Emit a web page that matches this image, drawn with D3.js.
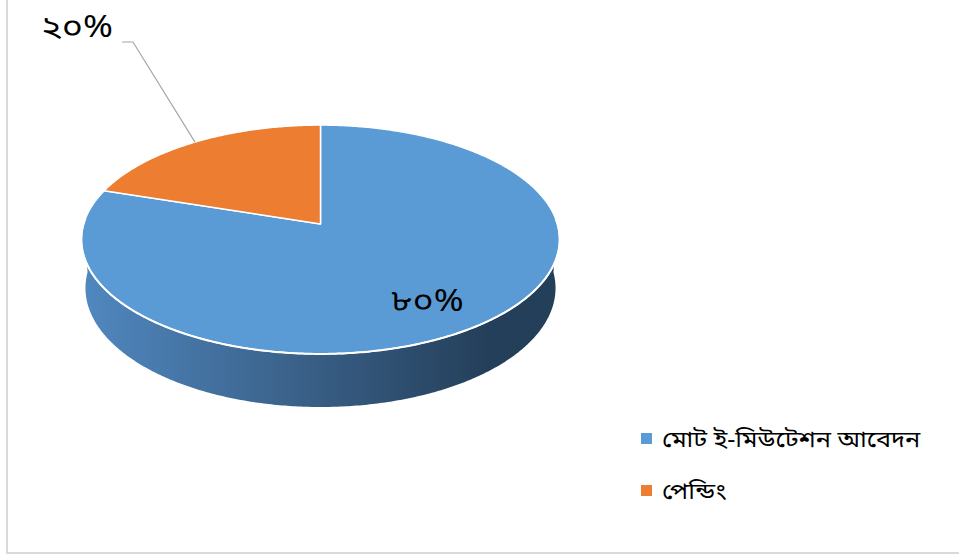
<!DOCTYPE html>
<html lang="bn">
<head>
  <meta charset="UTF-8">
  <title>ই-মিউটেশন আবেদন</title>
  <script src="https://d3js.org/d3.v7.min.js"></script>
  <style>
    body { margin: 0; background: #fff; }
    svg { display: block; }
    text { font-family: "Noto Sans Bengali", Vrinda, "Noto Sans", sans-serif; fill: #000; }
  </style>
</head>
<body>
<svg width="959" height="557"></svg>
<script>
  // data
  const categories = ["মোট ই-মিউটেশন আবেদন", "পেন্ডিং"];
  const values = [80, 20];
  const valueLabels = ["৮০%", "২০%"];
  const colors = ["#5B9BD5", "#ED7D31"];

  const svg = d3.select("svg");

  // chart frame (only left and bottom edges are inside the picture)
  svg.append("rect")
    .attr("x", 7).attr("y", -10).attr("width", 970).attr("height", 563)
    .attr("fill", "none").attr("stroke", "#D9D9D9").attr("stroke-width", 2);

  // simple perspective camera for a tilted disk
  const cx = 320.5, cy = 224;
  const tilt = 28.3 * Math.PI / 180;
  const dist = 6.5, focal = 1540, thick = 0.235;
  function project(theta, r, y) {
    const u = r * Math.sin(theta), v = r * Math.cos(theta);
    const X = u;
    const Y = v * Math.sin(tilt) + y * Math.cos(tilt);
    const Z = dist + v * Math.cos(tilt) - y * Math.sin(tilt);
    return [cx + focal * X / Z, cy - focal * Y / Z];
  }

  const pie = d3.pie().sort(null).value(d => d)(values);
  const line = d3.line();

  function arcPoints(a0, a1, y) {
    const n = Math.max(2, Math.ceil(Math.abs(a1 - a0) / 0.01));
    return d3.range(n + 1).map(i => project(a0 + (a1 - a0) * i / n, 1, y));
  }

  // side wall gradient
  const defs = svg.append("defs");
  const grad = defs.append("linearGradient")
    .attr("id", "side").attr("gradientUnits", "userSpaceOnUse")
    .attr("x1", 82).attr("x2", 559).attr("y1", 0).attr("y2", 0);
  grad.append("stop").attr("offset", 0).attr("stop-color", "#5088C0");
  grad.append("stop").attr("offset", 0.45).attr("stop-color", "#3A6189");
  grad.append("stop").attr("offset", 0.85).attr("stop-color", "#243F5A");
  grad.append("stop").attr("offset", 1).attr("stop-color", "#243F5A");

  // front wall (only the blue slice is visible from the front)
  const w0 = Math.PI / 2, w1 = Math.PI * 1.5;
  const wall = arcPoints(w0, w1, 0).concat(arcPoints(w1, w0, -thick));
  svg.append("path")
    .attr("d", line(wall) + "Z")
    .attr("fill", "url(#side)");

  // top face slices
  svg.append("g").selectAll("path")
    .data(pie)
    .join("path")
    .attr("d", d => line([project(0, 0, 0)].concat(arcPoints(d.startAngle, d.endAngle, 0))) + "Z")
    .attr("fill", (d, i) => colors[i])
    .attr("stroke", "#fff")
    .attr("stroke-width", 1.5)
    .attr("stroke-linejoin", "round");

  // white rim along the front edge
  svg.append("path")
    .attr("d", line(arcPoints(w0 - 0.05, w1 + 0.05, 0)))
    .attr("fill", "none").attr("stroke", "#fff").attr("stroke-width", 2);

  // labels
  const mid0 = (pie[0].startAngle + pie[0].endAngle) / 2;
  const p0 = project(mid0, 0.72, 0);
  svg.append("text")
    .attr("transform", `translate(${p0[0] - 2},${p0[1] + 16}) scale(1.2,1)`)
    .attr("text-anchor", "middle")
    .attr("font-size", 30)
    .text(valueLabels[0]);

  const mid1 = (pie[1].startAngle + pie[1].endAngle) / 2;
  const p1 = project(mid1, 1, 0);
  const elbow = [p1[0] - 62, 42];
  svg.append("path")
    .attr("d", line([p1, elbow, [elbow[0] - 11, elbow[1]]]))
    .attr("fill", "none").attr("stroke", "#A6A6A6").attr("stroke-width", 1.2);
  svg.append("text")
    .attr("transform", `translate(${elbow[0] - 20},${elbow[1] - 5}) scale(1.2,1)`)
    .attr("text-anchor", "end")
    .attr("font-size", 30)
    .text(valueLabels[1]);

  // legend
  const legend = svg.append("g").attr("transform", "translate(641,433)");
  const item = legend.selectAll("g")
    .data(categories)
    .join("g")
    .attr("transform", (d, i) => `translate(0,${i * 52})`);
  item.append("rect")
    .attr("width", 11).attr("height", 11)
    .attr("fill", (d, i) => colors[i]);
  item.append("text")
    .attr("transform", "translate(21,14) scale(1.1,1)")
    .attr("font-size", 23)
    .text(d => d);
</script>
</body>
</html>
